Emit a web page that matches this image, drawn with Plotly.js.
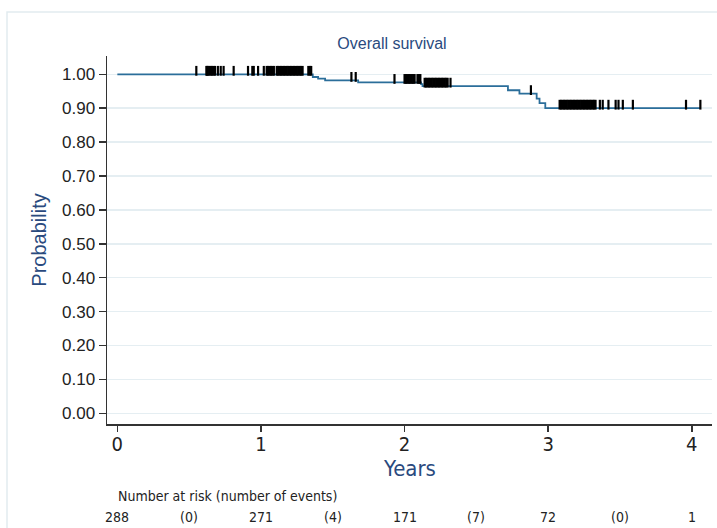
<!DOCTYPE html>
<html>
<head>
<meta charset="utf-8">
<script src="https://cdn.plot.ly/plotly-3.0.1.min.js"></script>
<style>html,body{margin:0;padding:0;background:#fff;}#chart{width:717px;height:528px;}</style>
</head>
<body>
<div id="chart"></div>
<script>
// Kaplan-Meier step data
const eventTimes = [1.361, 1.398, 1.447, 1.677, 2.115, 2.125, 2.72, 2.80, 2.92, 2.94, 2.98];
const survivalLevels = [0.992, 0.987, 0.982, 0.976, 0.971, 0.965, 0.953, 0.943, 0.928, 0.915, 0.900];
const curveEnd = 4.06;

// Censoring times (tick marks)
const censorTimes = [
  0.55, 0.62, 0.625, 0.63, 0.64, 0.65, 0.66, 0.67, 0.68, 0.70, 0.72, 0.74, 0.81,
  0.91, 0.94, 0.95, 0.98, 1.02, 1.04, 1.05, 1.06, 1.07, 1.08, 1.09,
  1.11, 1.12, 1.13, 1.14, 1.15, 1.16, 1.17, 1.18, 1.19, 1.20, 1.21, 1.22, 1.23,
  1.24, 1.25, 1.26, 1.27, 1.28, 1.29, 1.33, 1.34, 1.35,
  1.63, 1.66, 1.93,
  2.00, 2.01, 2.02, 2.03, 2.04, 2.05, 2.06, 2.07, 2.09, 2.10, 2.11,
  2.14, 2.15, 2.16, 2.17, 2.18, 2.19, 2.20, 2.21, 2.22, 2.23, 2.24, 2.25, 2.26,
  2.27, 2.28, 2.29, 2.30, 2.32,
  2.88,
  3.08, 3.09, 3.10, 3.11, 3.12, 3.13, 3.14, 3.15, 3.16, 3.17, 3.18, 3.19, 3.20,
  3.21, 3.22, 3.23, 3.24, 3.25, 3.26, 3.27, 3.28, 3.29, 3.30, 3.31, 3.32, 3.33,
  3.36, 3.38, 3.42, 3.47, 3.49, 3.52, 3.59, 3.96, 4.06
];

// Number at risk table
const riskTimes = [0, 1, 2, 3, 4];
const atRisk = [288, 271, 171, 72, 1];
const eventTimesMid = [0.5, 1.5, 2.5, 3.5];
const eventsInInterval = [0, 4, 7, 0];

const yTicks = [0, 0.1, 0.2, 0.3, 0.4, 0.5, 0.6, 0.7, 0.8, 0.9, 1.0];
const yTickText = ['0.00','0.10','0.20','0.30','0.40','0.50','0.60','0.70','0.80','0.90','1.00'];
const xTicks = [0, 1, 2, 3, 4];

// build step curve
const cx = [0].concat(eventTimes, [curveEnd]);
const cy = [1].concat(survivalLevels, [survivalLevels[survivalLevels.length - 1]]);

function survAt(t) {
  let s = 1;
  for (let i = 0; i < eventTimes.length; i++) if (eventTimes[i] <= t) s = survivalLevels[i];
  return s;
}

const W = 717, H = 528;
const mL = 107, mR = 5, mT = 56, mB = 104;
const yRange = [-0.0316, 1.054];
const plotH = H - mT - mB;
const plotW = W - mL - mR;
const markPx = 7;
const offset = (markPx / 2) * (yRange[1] - yRange[0]) / plotH;

const censorY = censorTimes.map(t => survAt(t) + offset);

const traces = [
  {
    x: cx, y: cy, type: 'scatter', mode: 'lines',
    line: {shape: 'hv', color: '#2b6e9a', width: 1.8},
    hoverinfo: 'skip', showlegend: false
  },
  {
    x: censorTimes, y: censorY, type: 'scatter', mode: 'markers',
    marker: {symbol: 'line-ns', size: markPx, color: '#000', line: {color: '#000', width: 2.2}},
    hoverinfo: 'skip', showlegend: false
  }
];

const condFont = 'DejaVu Sans Condensed, Liberation Sans, Arial';
const pyPix = px => -(px - (H - mB)) / plotH;   // pixel row below plot -> paper y

const annotations = [];
annotations.push({
  x: -0.01, xref: 'x', xanchor: 'left', y: pyPix(496), yref: 'paper', yanchor: 'middle',
  text: 'Number at risk (number of events)', showarrow: false,
  font: {family: condFont, size: 14, color: '#222'}
});
for (let i = 0; i < riskTimes.length; i++) {
  annotations.push({
    x: riskTimes[i], xref: 'x', xanchor: 'center', y: pyPix(517), yref: 'paper', yanchor: 'middle',
    text: String(atRisk[i]), showarrow: false,
    font: {family: condFont, size: 14, color: '#222'}
  });
}
for (let i = 0; i < eventTimesMid.length; i++) {
  annotations.push({
    x: eventTimesMid[i], xref: 'x', xanchor: 'center', y: pyPix(517), yref: 'paper', yanchor: 'middle',
    text: '(' + eventsInInterval[i] + ')', showarrow: false,
    font: {family: condFont, size: 14, color: '#222'}
  });
}
annotations.push({
  x: 0.5, xref: 'paper', xanchor: 'center', y: pyPix(468), yref: 'paper', yanchor: 'middle',
  text: 'Years', showarrow: false,
  font: {family: condFont, size: 22, color: '#2a4a7e'}
});

const layout = {
  width: W, height: H,
  margin: {l: mL, r: mR, t: mT, b: mB},
  paper_bgcolor: '#fff', plot_bgcolor: '#fff',
  title: {
    text: 'Overall survival', x: 392 / W, xref: 'container', xanchor: 'center',
    y: 1 - 43 / H, yref: 'container', yanchor: 'middle',
    font: {family: 'Liberation Sans, Arial', size: 16, color: '#2a4a7e'}
  },
  xaxis: {
    range: [-0.072, 4.141], tickvals: xTicks, ticktext: xTicks.map(String),
    ticks: 'outside', ticklen: 6, tickwidth: 1.5, tickcolor: '#333',
    ticklabelstandoff: -5,
    showline: true, linecolor: '#333', linewidth: 1.5,
    showgrid: false, zeroline: false,
    tickfont: {family: condFont, size: 20, color: '#222'},
    fixedrange: true
  },
  yaxis: {
    range: yRange, tickvals: yTicks, ticktext: yTickText,
    ticks: 'outside', ticklen: 7, tickwidth: 1.5, tickcolor: '#333',
    showline: true, linecolor: '#333', linewidth: 1.5,
    showgrid: true, gridcolor: '#e5eef2', gridwidth: 1.5, zeroline: false,
    tickfont: {family: 'Liberation Sans, Arial', size: 17, color: '#222'},
    title: {text: 'Probability', standoff: 10, font: {family: 'Liberation Sans, Arial', size: 20, color: '#2a4a7e'}},
    fixedrange: true
  },
  shapes: [{
    type: 'rect', xref: 'paper', yref: 'paper', layer: 'below',
    x0: (7 - mL) / plotW, x1: (730 - mL) / plotW,
    y0: pyPix(560), y1: (H - mB - 12) / plotH,
    line: {color: '#e2ebf0', width: 1.5}, fillcolor: 'rgba(0,0,0,0)'
  }],
  annotations: annotations,
  showlegend: false
};

Plotly.newPlot('chart', traces, layout, {displayModeBar: false, staticPlot: true});
</script>
</body>
</html>
